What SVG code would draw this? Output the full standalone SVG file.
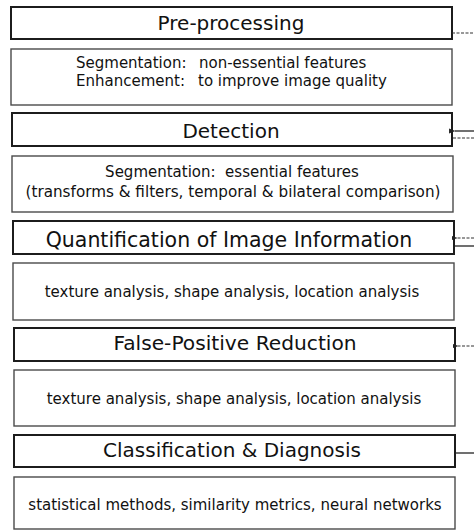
<svg xmlns="http://www.w3.org/2000/svg" width="474" height="530" viewBox="0 0 474 530">
  <style>
    .hdr { fill: #ffffff; stroke: #1c1c1c; stroke-width: 2; }
    .box { fill: #ffffff; stroke: #4a4a4a; stroke-width: 1.4; }
    .title { font-family: "DejaVu Sans", Verdana, sans-serif; font-size: 20px; fill: #111; text-anchor: middle; }
    .desc { font-family: "DejaVu Sans", Verdana, sans-serif; font-size: 15px; fill: #111; }
    .mid { text-anchor: middle; }
    .link { stroke: #222; stroke-width: 1.3; fill: none; }
    .dash { stroke: #333; stroke-width: 1.1; fill: none; stroke-dasharray: 3 1.5; }
  </style>
  <defs>
    <marker id="head" viewBox="0 0 6 6" refX="0.5" refY="3" markerWidth="5" markerHeight="5" orient="auto">
      <path d="M6,0.8 L0,3 L6,5.2 Z" fill="#222"/>
    </marker>
  </defs>
  <rect width="474" height="530" fill="#ffffff"/>

  <g id="preprocessing">
    <rect class="hdr" x="11" y="7" width="441" height="32"/>
    <text class="title" x="231" y="30">Pre-processing</text>
  </g>
  <g id="preprocessing-detail">
    <rect class="box" x="11" y="49" width="441" height="56"/>
    <text class="desc" x="76" y="68">Segmentation:<tspan x="199">non-essential features</tspan></text>
    <text class="desc" x="76" y="86">Enhancement:<tspan x="198">to improve image quality</tspan></text>
  </g>

  <g id="detection">
    <rect class="hdr" x="12" y="113" width="440" height="33"/>
    <text class="title" x="231" y="138">Detection</text>
  </g>
  <g id="detection-detail">
    <rect class="box" x="12" y="156" width="441" height="56"/>
    <text class="desc mid" x="232" y="177">Segmentation:&#160; essential features</text>
    <text class="desc mid" x="233" y="197" style="font-size:15.2px">(transforms &amp; filters, temporal &amp; bilateral comparison)</text>
  </g>

  <g id="quantification">
    <rect class="hdr" x="13" y="221" width="441" height="33"/>
    <text class="title" x="229" y="247" style="font-size:20.5px">Quantification of Image Information</text>
  </g>
  <g id="quantification-detail">
    <rect class="box" x="13" y="263" width="441" height="57"/>
    <text class="desc mid" x="232" y="297">texture analysis, shape analysis, location analysis</text>
  </g>

  <g id="fp-reduction">
    <rect class="hdr" x="14" y="328" width="441" height="33"/>
    <text class="title" x="235" y="350" style="font-size:20.2px">False-Positive Reduction</text>
  </g>
  <g id="fp-reduction-detail">
    <rect class="box" x="14" y="370" width="441" height="56"/>
    <text class="desc mid" x="234" y="404">texture analysis, shape analysis, location analysis</text>
  </g>

  <g id="classification">
    <rect class="hdr" x="14" y="435" width="441" height="32"/>
    <text class="title" x="232" y="457">Classification &amp; Diagnosis</text>
  </g>
  <g id="classification-detail">
    <rect class="box" x="14" y="477" width="441" height="52"/>
    <text class="desc mid" x="235" y="510">statistical methods, similarity metrics, neural networks</text>
  </g>

  <g id="connectors">
    <line class="dash" x1="452" y1="33" x2="474" y2="33"/>
    <line class="link" x1="474" y1="131" x2="455" y2="131" marker-end="url(#head)"/>
    <line class="dash" x1="453" y1="138" x2="474" y2="138"/>
    <line class="dash" x1="474" y1="238" x2="457" y2="238" marker-end="url(#head)"/>
    <line class="link" x1="455" y1="246" x2="474" y2="246"/>
    <line class="dash" x1="474" y1="346" x2="458" y2="346" marker-end="url(#head)"/>
    <line class="link" x1="455" y1="453" x2="474" y2="453"/>
  </g>
</svg>
